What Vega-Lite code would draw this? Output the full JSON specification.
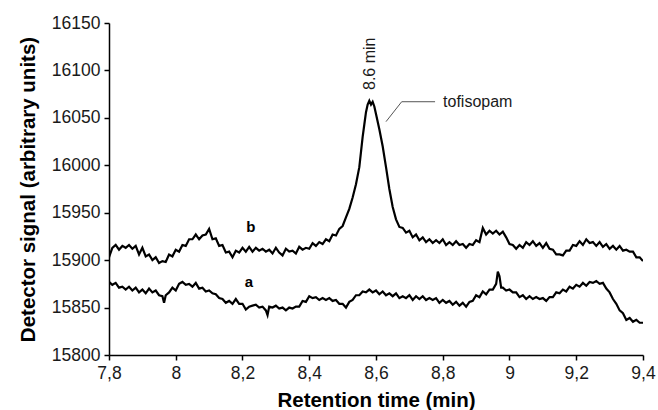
{
  "$schema": "https://vega.github.io/schema/vega-lite/v6.json",
  "width": 534,
  "height": 332,
  "autosize": {"type": "none"},
  "padding": {"left": 109, "top": 23, "right": 15, "bottom": 55},
  "background": "white",
  "config": {
    "view": {"stroke": null},
    "font": "Liberation Sans",
    "axis": {
      "grid": false,
      "domainColor": "#000000",
      "domainWidth": 1.5,
      "tickColor": "#000000",
      "tickWidth": 1.5,
      "tickSize": 5,
      "labelColor": "#1a1a1a",
      "labelFont": "Liberation Sans",
      "labelFontSize": 17.5,
      "labelPadding": 4,
      "titleFont": "Liberation Sans",
      "titleFontSize": 20.5,
      "titleFontWeight": "bold",
      "titleColor": "#000000"
    }
  },
  "datasets": {
    "curves": [
      {"t":7.80,"v":15903,"s":"b"},{"t":7.81,"v":15913,"s":"b"},{"t":7.82,"v":15916,"s":"b"},{"t":7.83,"v":15911,"s":"b"},{"t":7.84,"v":15915,"s":"b"},{"t":7.85,"v":15913,"s":"b"},{"t":7.86,"v":15916,"s":"b"},{"t":7.87,"v":15912,"s":"b"},{"t":7.88,"v":15915,"s":"b"},{"t":7.89,"v":15906,"s":"b"},
      {"t":7.90,"v":15913,"s":"b"},{"t":7.91,"v":15904,"s":"b"},{"t":7.92,"v":15906,"s":"b"},{"t":7.93,"v":15900,"s":"b"},{"t":7.94,"v":15903,"s":"b"},{"t":7.95,"v":15897,"s":"b"},{"t":7.96,"v":15899,"s":"b"},{"t":7.97,"v":15898,"s":"b"},{"t":7.98,"v":15906,"s":"b"},{"t":7.99,"v":15904,"s":"b"},
      {"t":8.00,"v":15911,"s":"b"},{"t":8.01,"v":15909,"s":"b"},{"t":8.02,"v":15916,"s":"b"},{"t":8.03,"v":15915,"s":"b"},{"t":8.04,"v":15922,"s":"b"},{"t":8.05,"v":15922,"s":"b"},{"t":8.06,"v":15927,"s":"b"},{"t":8.07,"v":15922,"s":"b"},{"t":8.08,"v":15926,"s":"b"},{"t":8.09,"v":15927,"s":"b"},
      {"t":8.10,"v":15933,"s":"b"},{"t":8.11,"v":15922,"s":"b"},{"t":8.12,"v":15923,"s":"b"},{"t":8.13,"v":15915,"s":"b"},{"t":8.14,"v":15916,"s":"b"},{"t":8.15,"v":15908,"s":"b"},{"t":8.16,"v":15909,"s":"b"},{"t":8.17,"v":15903,"s":"b"},{"t":8.18,"v":15910,"s":"b"},{"t":8.19,"v":15908,"s":"b"},
      {"t":8.20,"v":15913,"s":"b"},{"t":8.21,"v":15909,"s":"b"},{"t":8.22,"v":15914,"s":"b"},{"t":8.23,"v":15909,"s":"b"},{"t":8.24,"v":15913,"s":"b"},{"t":8.25,"v":15910,"s":"b"},{"t":8.26,"v":15912,"s":"b"},{"t":8.27,"v":15909,"s":"b"},{"t":8.28,"v":15911,"s":"b"},{"t":8.29,"v":15907,"s":"b"},
      {"t":8.30,"v":15913,"s":"b"},{"t":8.31,"v":15908,"s":"b"},{"t":8.32,"v":15905,"s":"b"},{"t":8.33,"v":15912,"s":"b"},{"t":8.34,"v":15909,"s":"b"},{"t":8.35,"v":15910,"s":"b"},{"t":8.36,"v":15907,"s":"b"},{"t":8.37,"v":15914,"s":"b"},{"t":8.38,"v":15911,"s":"b"},{"t":8.39,"v":15913,"s":"b"},
      {"t":8.40,"v":15912,"s":"b"},{"t":8.41,"v":15918,"s":"b"},{"t":8.42,"v":15915,"s":"b"},{"t":8.43,"v":15919,"s":"b"},{"t":8.44,"v":15917,"s":"b"},{"t":8.45,"v":15922,"s":"b"},{"t":8.46,"v":15920,"s":"b"},{"t":8.47,"v":15927,"s":"b"},{"t":8.48,"v":15926,"s":"b"},{"t":8.49,"v":15933,"s":"b"},
      {"t":8.50,"v":15936,"s":"b"},{"t":8.51,"v":15945,"s":"b"},{"t":8.52,"v":15954,"s":"b"},{"t":8.53,"v":15966,"s":"b"},{"t":8.54,"v":15980,"s":"b"},{"t":8.55,"v":15998,"s":"b"},{"t":8.56,"v":16030,"s":"b"},{"t":8.565,"v":16043,"s":"b"},{"t":8.57,"v":16056,"s":"b"},{"t":8.575,"v":16064,"s":"b"},
      {"t":8.58,"v":16068,"s":"b"},{"t":8.585,"v":16064,"s":"b"},{"t":8.59,"v":16067,"s":"b"},{"t":8.595,"v":16062,"s":"b"},{"t":8.60,"v":16054,"s":"b"},{"t":8.61,"v":16038,"s":"b"},{"t":8.62,"v":16020,"s":"b"},{"t":8.63,"v":15998,"s":"b"},{"t":8.64,"v":15975,"s":"b"},{"t":8.65,"v":15956,"s":"b"},
      {"t":8.66,"v":15943,"s":"b"},{"t":8.67,"v":15935,"s":"b"},{"t":8.68,"v":15934,"s":"b"},{"t":8.69,"v":15929,"s":"b"},{"t":8.70,"v":15931,"s":"b"},{"t":8.71,"v":15924,"s":"b"},{"t":8.72,"v":15927,"s":"b"},{"t":8.73,"v":15921,"s":"b"},{"t":8.74,"v":15924,"s":"b"},{"t":8.75,"v":15919,"s":"b"},
      {"t":8.76,"v":15922,"s":"b"},{"t":8.77,"v":15918,"s":"b"},{"t":8.78,"v":15921,"s":"b"},{"t":8.79,"v":15918,"s":"b"},{"t":8.80,"v":15922,"s":"b"},{"t":8.81,"v":15916,"s":"b"},{"t":8.82,"v":15919,"s":"b"},{"t":8.83,"v":15916,"s":"b"},{"t":8.84,"v":15920,"s":"b"},{"t":8.85,"v":15916,"s":"b"},
      {"t":8.86,"v":15917,"s":"b"},{"t":8.87,"v":15913,"s":"b"},{"t":8.88,"v":15917,"s":"b"},{"t":8.89,"v":15916,"s":"b"},{"t":8.90,"v":15921,"s":"b"},{"t":8.91,"v":15919,"s":"b"},{"t":8.92,"v":15934,"s":"b"},{"t":8.93,"v":15927,"s":"b"},{"t":8.94,"v":15931,"s":"b"},{"t":8.95,"v":15928,"s":"b"},
      {"t":8.96,"v":15931,"s":"b"},{"t":8.97,"v":15927,"s":"b"},{"t":8.98,"v":15930,"s":"b"},{"t":8.99,"v":15924,"s":"b"},{"t":9.00,"v":15917,"s":"b"},{"t":9.01,"v":15916,"s":"b"},{"t":9.02,"v":15912,"s":"b"},{"t":9.03,"v":15916,"s":"b"},{"t":9.04,"v":15913,"s":"b"},{"t":9.05,"v":15919,"s":"b"},
      {"t":9.06,"v":15916,"s":"b"},{"t":9.07,"v":15920,"s":"b"},{"t":9.08,"v":15915,"s":"b"},{"t":9.09,"v":15918,"s":"b"},{"t":9.10,"v":15913,"s":"b"},{"t":9.11,"v":15918,"s":"b"},{"t":9.12,"v":15912,"s":"b"},{"t":9.13,"v":15911,"s":"b"},{"t":9.14,"v":15906,"s":"b"},{"t":9.15,"v":15906,"s":"b"},
      {"t":9.16,"v":15905,"s":"b"},{"t":9.17,"v":15910,"s":"b"},{"t":9.18,"v":15910,"s":"b"},{"t":9.19,"v":15916,"s":"b"},{"t":9.20,"v":15915,"s":"b"},{"t":9.21,"v":15920,"s":"b"},{"t":9.22,"v":15916,"s":"b"},{"t":9.23,"v":15922,"s":"b"},{"t":9.24,"v":15918,"s":"b"},{"t":9.25,"v":15919,"s":"b"},
      {"t":9.26,"v":15915,"s":"b"},{"t":9.27,"v":15919,"s":"b"},{"t":9.28,"v":15914,"s":"b"},{"t":9.29,"v":15917,"s":"b"},{"t":9.30,"v":15912,"s":"b"},{"t":9.31,"v":15915,"s":"b"},{"t":9.32,"v":15911,"s":"b"},{"t":9.33,"v":15915,"s":"b"},{"t":9.34,"v":15910,"s":"b"},{"t":9.35,"v":15911,"s":"b"},
      {"t":9.36,"v":15909,"s":"b"},{"t":9.37,"v":15909,"s":"b"},{"t":9.38,"v":15903,"s":"b"},{"t":9.39,"v":15903,"s":"b"},{"t":9.40,"v":15899,"s":"b"},

      {"t":7.80,"v":15877,"s":"a"},{"t":7.81,"v":15874,"s":"a"},{"t":7.82,"v":15876,"s":"a"},{"t":7.83,"v":15871,"s":"a"},{"t":7.84,"v":15872,"s":"a"},{"t":7.85,"v":15869,"s":"a"},{"t":7.86,"v":15872,"s":"a"},{"t":7.87,"v":15868,"s":"a"},{"t":7.88,"v":15871,"s":"a"},{"t":7.89,"v":15866,"s":"a"},
      {"t":7.90,"v":15869,"s":"a"},{"t":7.91,"v":15865,"s":"a"},{"t":7.92,"v":15870,"s":"a"},{"t":7.93,"v":15866,"s":"a"},{"t":7.94,"v":15868,"s":"a"},{"t":7.95,"v":15863,"s":"a"},{"t":7.96,"v":15862,"s":"a"},{"t":7.965,"v":15855,"s":"a"},{"t":7.97,"v":15863,"s":"a"},{"t":7.98,"v":15866,"s":"a"},
      {"t":7.99,"v":15871,"s":"a"},{"t":8.00,"v":15868,"s":"a"},{"t":8.01,"v":15875,"s":"a"},{"t":8.02,"v":15877,"s":"a"},{"t":8.03,"v":15874,"s":"a"},{"t":8.04,"v":15875,"s":"a"},{"t":8.05,"v":15872,"s":"a"},{"t":8.06,"v":15876,"s":"a"},{"t":8.07,"v":15870,"s":"a"},{"t":8.08,"v":15871,"s":"a"},
      {"t":8.09,"v":15867,"s":"a"},{"t":8.10,"v":15868,"s":"a"},{"t":8.11,"v":15865,"s":"a"},{"t":8.12,"v":15864,"s":"a"},{"t":8.13,"v":15860,"s":"a"},{"t":8.14,"v":15859,"s":"a"},{"t":8.15,"v":15855,"s":"a"},{"t":8.16,"v":15857,"s":"a"},{"t":8.17,"v":15854,"s":"a"},{"t":8.18,"v":15859,"s":"a"},
      {"t":8.19,"v":15854,"s":"a"},{"t":8.20,"v":15854,"s":"a"},{"t":8.21,"v":15848,"s":"a"},{"t":8.22,"v":15851,"s":"a"},{"t":8.23,"v":15852,"s":"a"},{"t":8.24,"v":15853,"s":"a"},{"t":8.25,"v":15850,"s":"a"},{"t":8.26,"v":15851,"s":"a"},{"t":8.27,"v":15847,"s":"a"},{"t":8.275,"v":15842,"s":"a"},
      {"t":8.28,"v":15851,"s":"a"},{"t":8.29,"v":15850,"s":"a"},{"t":8.30,"v":15852,"s":"a"},{"t":8.31,"v":15849,"s":"a"},{"t":8.32,"v":15850,"s":"a"},{"t":8.33,"v":15847,"s":"a"},{"t":8.34,"v":15850,"s":"a"},{"t":8.35,"v":15849,"s":"a"},{"t":8.36,"v":15851,"s":"a"},{"t":8.37,"v":15851,"s":"a"},
      {"t":8.38,"v":15857,"s":"a"},{"t":8.39,"v":15856,"s":"a"},{"t":8.40,"v":15862,"s":"a"},{"t":8.41,"v":15860,"s":"a"},{"t":8.42,"v":15861,"s":"a"},{"t":8.43,"v":15858,"s":"a"},{"t":8.44,"v":15860,"s":"a"},{"t":8.45,"v":15858,"s":"a"},{"t":8.46,"v":15860,"s":"a"},{"t":8.47,"v":15857,"s":"a"},
      {"t":8.48,"v":15858,"s":"a"},{"t":8.49,"v":15854,"s":"a"},{"t":8.50,"v":15854,"s":"a"},{"t":8.51,"v":15850,"s":"a"},{"t":8.52,"v":15856,"s":"a"},{"t":8.53,"v":15858,"s":"a"},{"t":8.54,"v":15863,"s":"a"},{"t":8.55,"v":15863,"s":"a"},{"t":8.56,"v":15867,"s":"a"},{"t":8.57,"v":15866,"s":"a"},
      {"t":8.58,"v":15869,"s":"a"},{"t":8.59,"v":15866,"s":"a"},{"t":8.60,"v":15868,"s":"a"},{"t":8.61,"v":15864,"s":"a"},{"t":8.62,"v":15867,"s":"a"},{"t":8.63,"v":15863,"s":"a"},{"t":8.64,"v":15865,"s":"a"},{"t":8.65,"v":15862,"s":"a"},{"t":8.66,"v":15865,"s":"a"},{"t":8.67,"v":15860,"s":"a"},
      {"t":8.68,"v":15862,"s":"a"},{"t":8.69,"v":15860,"s":"a"},{"t":8.70,"v":15863,"s":"a"},{"t":8.71,"v":15858,"s":"a"},{"t":8.72,"v":15862,"s":"a"},{"t":8.73,"v":15859,"s":"a"},{"t":8.74,"v":15862,"s":"a"},{"t":8.75,"v":15858,"s":"a"},{"t":8.76,"v":15860,"s":"a"},{"t":8.77,"v":15858,"s":"a"},
      {"t":8.78,"v":15860,"s":"a"},{"t":8.79,"v":15855,"s":"a"},{"t":8.80,"v":15858,"s":"a"},{"t":8.81,"v":15855,"s":"a"},{"t":8.82,"v":15857,"s":"a"},{"t":8.83,"v":15853,"s":"a"},{"t":8.84,"v":15856,"s":"a"},{"t":8.85,"v":15852,"s":"a"},{"t":8.86,"v":15855,"s":"a"},{"t":8.87,"v":15851,"s":"a"},
      {"t":8.88,"v":15856,"s":"a"},{"t":8.89,"v":15857,"s":"a"},{"t":8.90,"v":15863,"s":"a"},{"t":8.91,"v":15861,"s":"a"},{"t":8.92,"v":15867,"s":"a"},{"t":8.93,"v":15864,"s":"a"},{"t":8.94,"v":15869,"s":"a"},{"t":8.95,"v":15869,"s":"a"},{"t":8.96,"v":15875,"s":"a"},{"t":8.965,"v":15888,"s":"a"},
      {"t":8.97,"v":15883,"s":"a"},{"t":8.975,"v":15871,"s":"a"},{"t":8.98,"v":15871,"s":"a"},{"t":8.99,"v":15868,"s":"a"},{"t":9.00,"v":15869,"s":"a"},{"t":9.01,"v":15866,"s":"a"},{"t":9.02,"v":15866,"s":"a"},{"t":9.03,"v":15861,"s":"a"},{"t":9.04,"v":15863,"s":"a"},{"t":9.05,"v":15859,"s":"a"},
      {"t":9.06,"v":15862,"s":"a"},{"t":9.07,"v":15859,"s":"a"},{"t":9.08,"v":15861,"s":"a"},{"t":9.09,"v":15859,"s":"a"},{"t":9.10,"v":15860,"s":"a"},{"t":9.11,"v":15857,"s":"a"},{"t":9.12,"v":15861,"s":"a"},{"t":9.13,"v":15861,"s":"a"},{"t":9.14,"v":15866,"s":"a"},{"t":9.15,"v":15865,"s":"a"},
      {"t":9.16,"v":15869,"s":"a"},{"t":9.17,"v":15867,"s":"a"},{"t":9.18,"v":15872,"s":"a"},{"t":9.19,"v":15870,"s":"a"},{"t":9.20,"v":15874,"s":"a"},{"t":9.21,"v":15872,"s":"a"},{"t":9.22,"v":15876,"s":"a"},{"t":9.23,"v":15873,"s":"a"},{"t":9.24,"v":15877,"s":"a"},{"t":9.25,"v":15876,"s":"a"},
      {"t":9.26,"v":15878,"s":"a"},{"t":9.27,"v":15875,"s":"a"},{"t":9.28,"v":15876,"s":"a"},{"t":9.29,"v":15870,"s":"a"},{"t":9.30,"v":15866,"s":"a"},{"t":9.31,"v":15859,"s":"a"},{"t":9.32,"v":15854,"s":"a"},{"t":9.33,"v":15847,"s":"a"},{"t":9.34,"v":15844,"s":"a"},{"t":9.35,"v":15837,"s":"a"},
      {"t":9.36,"v":15839,"s":"a"},{"t":9.37,"v":15835,"s":"a"},{"t":9.38,"v":15837,"s":"a"},{"t":9.39,"v":15834,"s":"a"},{"t":9.40,"v":15834,"s":"a"}
    ],
    "leader": [
      {"t":8.630,"v":16046,"o":1},
      {"t":8.677,"v":16067,"o":2},
      {"t":8.777,"v":16067,"o":3}
    ],
    "labels": [
      {"t":8.225,"v":15935,"txt":"b"},
      {"t":8.219,"v":15877,"txt":"a"}
    ],
    "notes": [
      {"t":8.801,"v":16067,"txt":"tofisopam"}
    ],
    "peak": [
      {"t":8.582,"v":16107,"txt":"8.6 min"}
    ]
  },
  "layer": [
    {
      "data": {"name": "curves"},
      "mark": {"type": "line", "color": "#000000", "strokeWidth": 2.2, "strokeJoin": "miter", "clip": true},
      "encoding": {
        "x": {
          "field": "t", "type": "quantitative",
          "scale": {"domain": [7.8, 9.4], "nice": false, "zero": false},
          "axis": {
            "title": "Retention time (min)",
            "values": [7.8, 8, 8.2, 8.4, 8.6, 8.8, 9, 9.2, 9.4],
            "labelExpr": "replace(format(datum.value, '.1~f'), '.', ',')",
            "titlePadding": 9,
            "labelFlush": false,
            "labelOverlap": false
          }
        },
        "y": {
          "field": "v", "type": "quantitative",
          "scale": {"domain": [15800, 16150], "nice": false, "zero": false},
          "axis": {
            "title": "Detector signal (arbitrary units)",
            "values": [15800, 15850, 15900, 15950, 16000, 16050, 16100, 16150],
            "format": "d",
            "titlePadding": 13,
            "labelFlush": false,
            "labelOverlap": false
          }
        },
        "detail": {"field": "s", "type": "nominal"}
      }
    },
    {
      "data": {"name": "leader"},
      "mark": {"type": "line", "color": "#555555", "strokeWidth": 1},
      "encoding": {
        "x": {"field": "t", "type": "quantitative"},
        "y": {"field": "v", "type": "quantitative"},
        "order": {"field": "o", "type": "quantitative"}
      }
    },
    {
      "data": {"name": "labels"},
      "mark": {"type": "text", "font": "Liberation Sans", "fontSize": 15, "fontWeight": "bold", "color": "#000000", "align": "center", "baseline": "middle"},
      "encoding": {
        "x": {"field": "t", "type": "quantitative"},
        "y": {"field": "v", "type": "quantitative"},
        "text": {"field": "txt", "type": "nominal"}
      }
    },
    {
      "data": {"name": "notes"},
      "mark": {"type": "text", "font": "Liberation Sans", "fontSize": 16, "color": "#1a1a1a", "align": "left", "baseline": "middle"},
      "encoding": {
        "x": {"field": "t", "type": "quantitative"},
        "y": {"field": "v", "type": "quantitative"},
        "text": {"field": "txt", "type": "nominal"}
      }
    },
    {
      "data": {"name": "peak"},
      "mark": {"type": "text", "font": "Liberation Sans", "fontSize": 16, "color": "#1a1a1a", "align": "center", "baseline": "middle", "angle": 270},
      "encoding": {
        "x": {"field": "t", "type": "quantitative"},
        "y": {"field": "v", "type": "quantitative"},
        "text": {"field": "txt", "type": "nominal"}
      }
    }
  ]
}
